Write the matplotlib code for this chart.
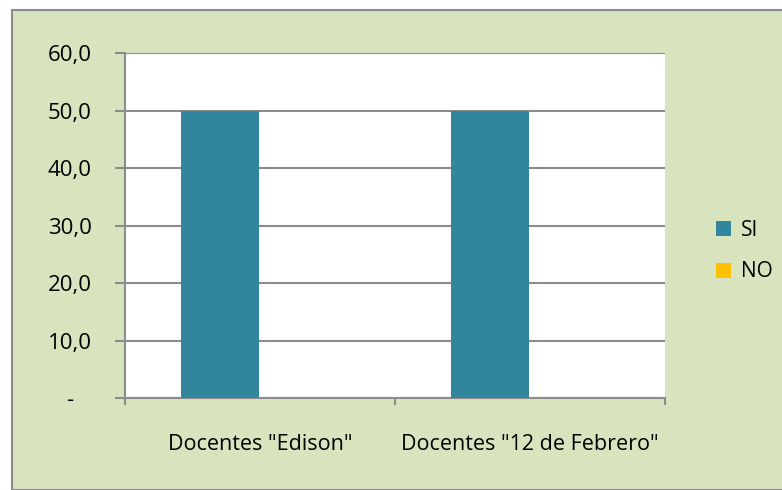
import matplotlib
matplotlib.use("Agg")
import matplotlib.pyplot as plt
from matplotlib.patches import Rectangle, Patch
import numpy as np

categories = ['Docentes "Edison"', 'Docentes "12 de Febrero"']
series_names = ["SI", "NO"]
si_values = [50.0, 50.0]
no_values = [0.0, 0.0]
yticks = [0, 10, 20, 30, 40, 50, 60]
ytick_labels = ["-   ", "10,0", "20,0", "30,0", "40,0", "50,0", "60,0"]

colors = ["#31859C", "#FFC000"]
plt.rcParams['font.family'] = ['Open Sans', 'DejaVu Sans']

fig = plt.figure(figsize=(7.82, 4.90), dpi=100, facecolor="white")
fig.patches.append(Rectangle((12/782, 0), 1, 1 - 10/490, transform=fig.transFigure,
                             facecolor="#D7E4BD", edgecolor="#8C8C8C", linewidth=1.5, zorder=-10))

ax = fig.add_axes([125/782, 1 - 398/490, 540/782, 345/490])
ax.set_facecolor("white")
x = np.arange(len(categories))
w = 0.289
ax.bar(x - 0.148, si_values, width=w, color=colors[0], zorder=3)
ax.bar(x + 0.148, no_values, width=w, color=colors[1], zorder=3)

ax.set_xlim(-0.5, 1.5)
ax.set_ylim(0, 60)
ax.set_yticks(yticks)
ax.set_yticklabels(ytick_labels, fontsize=16)
ax.yaxis.grid(True, color="#8C8C8C", linewidth=1.5, zorder=1)
ax.set_axisbelow(True)
ax.tick_params(axis="y", length=7, width=1.5, color="#8C8C8C", pad=17)

ax.set_xticks([-0.5, 0.5, 1.5])
ax.set_xticklabels([])
ax.tick_params(axis="x", length=5, width=1.5, color="#8C8C8C")
for i, c in enumerate(categories):
    ax.text(i, -0.134, c, transform=ax.get_xaxis_transform(), ha="center", va="center", fontsize=15.5)

for s in ["top", "right"]:
    ax.spines[s].set_visible(False)
for s in ["left", "bottom"]:
    ax.spines[s].set_color("#8C8C8C")
    ax.spines[s].set_linewidth(1.5)

handles = [Patch(facecolor=colors[0]), Patch(facecolor=colors[1])]
fig.legend(handles, series_names, loc="center left", bbox_to_anchor=(697/782, 1 - 251/490),
           frameon=False, fontsize=15, handlelength=0.75, handleheight=0.75,
           handletextpad=0.45, labelspacing=1.0)

fig.savefig("out.png", dpi=100, facecolor="white")
